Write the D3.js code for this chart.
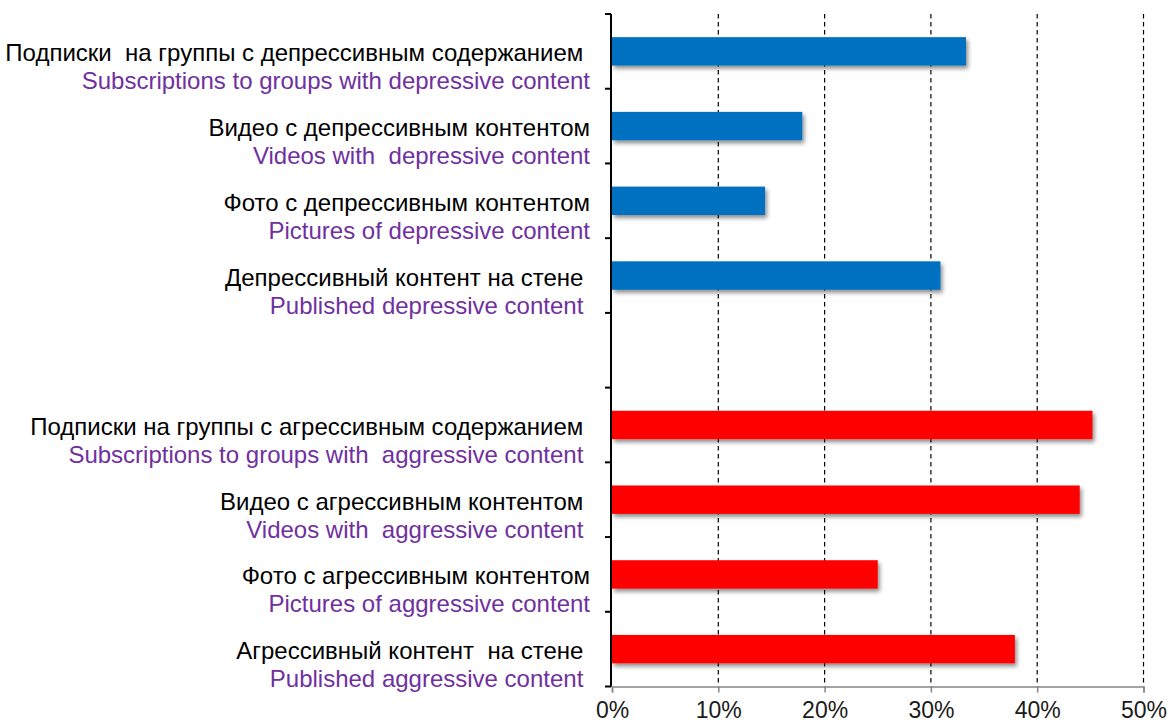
<!DOCTYPE html>
<html>
<head>
<meta charset="utf-8">
<script src="https://cdn.jsdelivr.net/npm/d3@7"></script>
<style>
  html, body { margin: 0; padding: 0; background: #fff; }
  svg { display: block; font-family: "Liberation Sans", Arial, sans-serif; }
</style>
</head>
<body>
<svg id="chart" width="1170" height="724"></svg>
<script>
// Row keys, top to bottom; "gap" is an empty row separating the two groups
const rows = ["depSubs", "depVideo", "depPhoto", "depWall", "gap", "aggSubs", "aggVideo", "aggPhoto", "aggWall"];

const labelsRu = [
  "Подписки  на группы с депрессивным содержанием ",
  "Видео с депрессивным контентом",
  "Фото с депрессивным контентом",
  "Депрессивный контент на стене ",
  "",
  "Подписки на группы с агрессивным содержанием ",
  "Видео с агрессивным контентом ",
  "Фото с агрессивным контентом",
  "Агрессивный контент  на стене "
];

const labelsEn = [
  "Subscriptions to groups with depressive content",
  "Videos with  depressive content",
  "Pictures of depressive content",
  "Published depressive content ",
  "",
  "Subscriptions to groups with  aggressive content ",
  "Videos with  aggressive content ",
  "Pictures of aggressive content",
  "Published aggressive content "
];

// Share of respondents, percent
const values = [33.3, 17.9, 14.4, 30.9, null, 45.2, 44.0, 25.0, 37.9];
const groups = ["dep", "dep", "dep", "dep", null, "agg", "agg", "agg", "agg"];

const xTicks = [0, 10, 20, 30, 40, 50];

const colors = { dep: "#0070C0", agg: "#FF0000" };

(function draw() {
  const svg = d3.select("#chart");

  const plotLeft = 612, plotRight = 1143.5, plotTop = 14, plotBottom = 686.5;
  const pad = 0.62;
  const labelSize = 24, tickSize = 23;

  const x = d3.scaleLinear().domain([0, 50]).range([plotLeft, plotRight]);
  const y = d3.scaleBand().domain(rows).range([plotTop, plotBottom])
    .paddingInner(pad).paddingOuter(pad / 2);

  const defs = svg.append("defs");
  const shadow = defs.append("filter").attr("id", "barShadow")
    .attr("x", "-5%").attr("y", "-30%").attr("width", "115%").attr("height", "180%");
  shadow.append("feDropShadow")
    .attr("dx", 2).attr("dy", 3).attr("stdDeviation", 2)
    .attr("flood-color", "#000").attr("flood-opacity", 0.45);

  // Dashed vertical gridlines
  svg.append("g")
    .selectAll("line")
    .data(xTicks.filter(d => d > 0))
    .join("line")
    .attr("x1", d => x(d)).attr("x2", d => x(d))
    .attr("y1", plotTop).attr("y2", plotBottom)
    .attr("stroke", "#000").attr("stroke-width", 1.2)
    .attr("stroke-dasharray", "4.5,3.5");

  // Bars
  const data = rows.map((k, i) => ({ key: k, v: values[i], g: groups[i] })).filter(d => d.v != null);
  svg.append("g")
    .selectAll("rect")
    .data(data)
    .join("rect")
    .attr("x", x(0))
    .attr("y", d => y(d.key))
    .attr("width", d => x(d.v) - x(0))
    .attr("height", y.bandwidth())
    .attr("fill", d => colors[d.g])
    .attr("filter", "url(#barShadow)");

  // X axis (gray) with percent ticks
  const xAxis = d3.axisBottom(x).tickValues(xTicks).tickFormat(d => d + "%").tickSize(6).tickPadding(9);
  const gx = svg.append("g").attr("transform", `translate(0,${plotBottom})`).call(xAxis);
  gx.select(".domain").attr("stroke", "#868686").attr("stroke-width", 1.5);
  gx.selectAll(".tick line").attr("stroke", "#868686").attr("stroke-width", 1.5);
  gx.selectAll(".tick text")
    .attr("font-size", tickSize).attr("font-family", "Liberation Sans, Arial, sans-serif")
    .attr("fill", "#1a1a1a");

  // Y axis (black) with ticks at row boundaries
  const step = y.step();
  const boundaries = d3.range(rows.length + 1).map(i => plotTop + i * step);
  const gy = svg.append("g");
  gy.append("line")
    .attr("x1", plotLeft - 1).attr("x2", plotLeft - 1)
    .attr("y1", plotTop).attr("y2", plotBottom)
    .attr("stroke", "#000").attr("stroke-width", 2);
  gy.selectAll("line.tick")
    .data(boundaries)
    .join("line").attr("class", "tick")
    .attr("x1", plotLeft - 7).attr("x2", plotLeft - 1)
    .attr("y1", d => d).attr("y2", d => d)
    .attr("stroke", "#000").attr("stroke-width", 2);

  // Two-line category labels: Russian above, English below
  const labelX = 590;
  const lbl = svg.append("g").attr("text-anchor", "end").attr("font-size", labelSize);
  rows.forEach((k, i) => {
    if (!labelsRu[i]) return;
    const cy = y(k) + y.bandwidth() / 2;
    lbl.append("text")
      .attr("x", labelX).attr("y", cy + 10)
      .attr("fill", "#000")
      .style("white-space", "pre")
      .text(labelsRu[i]);
    lbl.append("text")
      .attr("x", labelX).attr("y", cy + 38)
      .attr("fill", "#7030A0")
      .style("white-space", "pre")
      .text(labelsEn[i]);
  });
})();
</script>
</body>
</html>
